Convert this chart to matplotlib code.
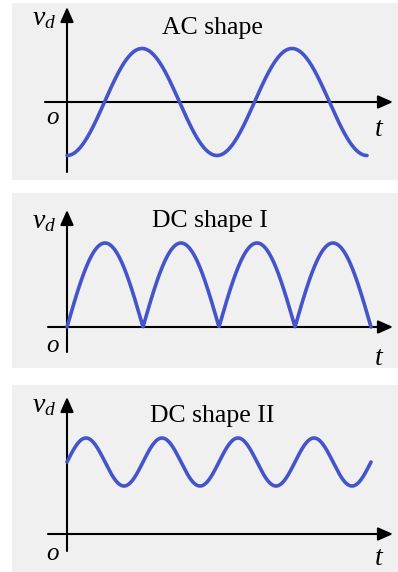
import numpy as np
import matplotlib
matplotlib.use("Agg")
import matplotlib.pyplot as plt

plt.rcParams['font.family'] = ['Liberation Serif', 'DejaVu Serif']
plt.rcParams['mathtext.fontset'] = 'custom'
plt.rcParams['mathtext.it'] = 'Liberation Serif:italic'
plt.rcParams['mathtext.rm'] = 'Liberation Serif'

# ---- data / shape parameters ----
titles = ["AC shape", "DC shape I", "DC shape II"]
ac_periods = 2          # -cos, two full periods
ac_amplitude = 1.0
dc1_humps = 4           # |sin| humps
dc1_amplitude = 1.0
dc2_periods = 4         # offset sine
dc2_offset = 3.0
dc2_amplitude = 1.0

W, H = 398, 572
BLUE = '#4454c9'
BG = '#f0f0f0'

fig = plt.figure(figsize=(W / 100, H / 100), dpi=100)
fig.patch.set_facecolor('white')

def fig_xy(px, py):
    return px / W, 1 - py / H

# panel layout in pixels: bbox (left, top, right, bottom), origin, px per unit x/y,
# y-axis extent (bottom, top) px, x-axis extent (left, right) px
panels = [
    dict(bbox=(12, 3, 398, 180), origin=(67, 102), sx=150, sy=53.5,
         yax=(172, 7), xax=(45, 393),
         vd=(32, 25), title=(212, 34), o=(52, 124), t=(379, 136)),
    dict(bbox=(12, 193, 398, 368), origin=(67, 327), sx=76, sy=84,
         yax=(352, 210), xax=(48, 393),
         vd=(32, 228), title=(210, 227), o=(52, 352), t=(379, 365)),
    dict(bbox=(12, 385, 398, 572), origin=(67, 534), sx=76, sy=24,
         yax=(551, 397), xax=(48, 393),
         vd=(32, 412), title=(212, 422), o=(52, 560), t=(379, 565)),
]

t_ac = np.linspace(0, ac_periods, 400)
v_ac = -ac_amplitude * np.cos(2 * np.pi * t_ac)
t_dc1 = np.linspace(0, dc1_humps, 800)
v_dc1 = dc1_amplitude * np.abs(np.sin(np.pi * t_dc1))
t_dc2 = np.linspace(0, dc2_periods, 800)
v_dc2 = dc2_offset + dc2_amplitude * np.sin(2 * np.pi * t_dc2)
curves = [(t_ac, v_ac), (t_dc1, v_dc1), (t_dc2, v_dc2)]

for p, (tt, vv), title in zip(panels, curves, titles):
    l, tp, r, b = p['bbox']
    x0, y0 = p['origin']
    sx, sy = p['sx'], p['sy']
    ax = fig.add_axes([l / W, 1 - b / H, (r - l) / W, (b - tp) / H])
    ax.set_facecolor(BG)
    for s in ax.spines.values():
        s.set_visible(False)
    ax.set_xticks([]); ax.set_yticks([])
    ax.set_xlim((l - x0) / sx, (r - x0) / sx)
    ax.set_ylim((y0 - b) / sy, (y0 - tp) / sy)

    def d(px, py):
        return (px - x0) / sx, (y0 - py) / sy

    # axes arrows
    ax.annotate('', xy=d(p['xax'][1], y0), xytext=d(p['xax'][0], y0),
                arrowprops=dict(arrowstyle='-|>,head_length=0.9,head_width=0.4',
                                color='black', lw=1.5, shrinkA=0, shrinkB=0))
    ax.annotate('', xy=d(x0, p['yax'][1]), xytext=d(x0, p['yax'][0]),
                arrowprops=dict(arrowstyle='-|>,head_length=0.9,head_width=0.4',
                                color='black', lw=1.5, shrinkA=0, shrinkB=0))

    ax.plot(tt, vv, color=BLUE, lw=2.6, solid_capstyle='round', zorder=3)

    fig.text(*fig_xy(*p['vd']), r'$v_d$', fontsize=20, ha='left', va='baseline')
    fig.text(*fig_xy(*p['title']), title, fontsize=18.5, ha='center', va='baseline')
    fig.text(*fig_xy(*p['o']), 'o', fontsize=18, style='italic', ha='center', va='baseline')
    fig.text(*fig_xy(*p['t']), 't', fontsize=20, style='italic', ha='center', va='baseline')

fig.savefig('out.png', dpi=100, facecolor='white')
